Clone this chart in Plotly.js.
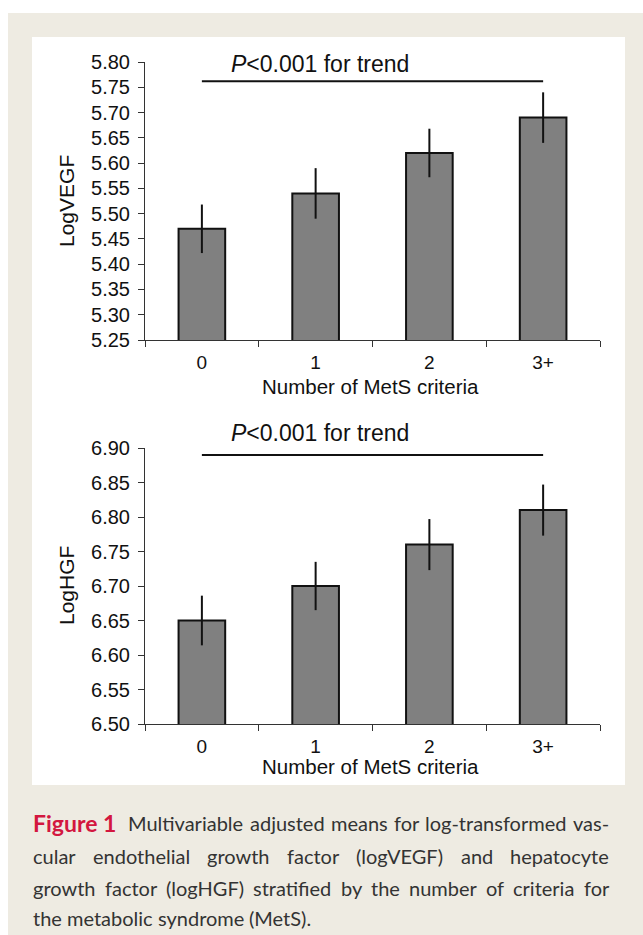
<!DOCTYPE html>
<html>
<head>
<meta charset="utf-8">
<script src="https://cdn.plot.ly/plotly-3.0.1.min.js"></script>
<style>
  html, body { margin: 0; padding: 0; background: #ffffff; }
  #chart { width: 643px; height: 935px; }
</style>
</head>
<body>
<div id="chart"></div>
<script>
// ---------- data ----------
const categories = ['0', '1', '2', '3+'];
const vegfMeans = [5.47, 5.54, 5.62, 5.69];
const vegfErrors = [0.048, 0.050, 0.048, 0.050];
const hgfMeans = [6.65, 6.70, 6.76, 6.81];
const hgfErrors = [0.036, 0.035, 0.037, 0.037];
const vegfRange = [5.25, 5.80];
const hgfRange = [6.50, 6.90];
const vegfTrendLevel = [5.762];
const hgfTrendLevel = [6.890];
const trendLabel = '<i>P</i>&lt;0.001 for trend';
const xAxisTitle = 'Number of MetS criteria';
const vegfTitle = 'LogVEGF';
const hgfTitle = 'LogHGF';
const captionHead = 'Figure 1';
const captionLines = [
  'Multivariable adjusted means for log-transformed vas-',
  'cular endothelial growth factor (logVEGF) and hepatocyte',
  'growth factor (logHGF) stratified by the number of criteria for',
  'the metabolic syndrome (MetS).'
];

// ---------- layout helpers ----------
const W = 643, H = 935;
const px = x => x / W;
const py = y => 1 - y / H;

const chartFont = 'Liberation Sans, Arial, sans-serif';
const capFont = 'Lato';
const capSize = 20;
const axisColor = '#333333';

function barTrace(y, err, xa, ya) {
  return {
    type: 'bar', x: categories, y: y, xaxis: xa, yaxis: ya,
    width: 0.41,
    marker: { color: '#808080', line: { color: '#111111', width: 2 } },
    error_y: { type: 'data', array: err, visible: true, color: '#111111', thickness: 2, width: 0 },
    hoverinfo: 'x+y', showlegend: false
  };
}

function xAxis(anchor) {
  return {
    type: 'category', domain: [px(145), px(600)], anchor: anchor,
    range: [-0.5, 3.5], tickson: 'boundaries',
    ticks: 'outside', ticklen: 6, tickwidth: 1, tickcolor: axisColor,
    showline: true, linecolor: axisColor, linewidth: 1,
    showgrid: false, zeroline: false,
    ticklabelstandoff: 5,
    tickfont: { family: chartFont, size: 19, color: '#111111' }
  };
}
function yAxis(domain, range, anchor) {
  return {
    domain: domain, anchor: anchor, range: range,
    tick0: range[0], dtick: 0.05, tickformat: '.2f',
    ticks: 'outside', ticklen: 6, tickwidth: 1, tickcolor: axisColor,
    showline: true, linecolor: axisColor, linewidth: 1,
    showgrid: false, zeroline: false,
    ticklabelstandoff: 4,
    tickfont: { family: chartFont, size: 20, color: '#111111' }
  };
}

const data = [
  barTrace(vegfMeans, vegfErrors, 'x', 'y'),
  barTrace(hgfMeans, hgfErrors, 'x2', 'y2')
];

const annotations = [
  { xref: 'paper', yref: 'paper', x: px(66), y: py(201), text: vegfTitle, textangle: -90,
    showarrow: false, xanchor: 'center', yanchor: 'middle', font: { family: chartFont, size: 21, color: '#111' } },
  { xref: 'paper', yref: 'paper', x: px(66), y: py(586), text: hgfTitle, textangle: -90,
    showarrow: false, xanchor: 'center', yanchor: 'middle', font: { family: chartFont, size: 21, color: '#111' } },
  { xref: 'paper', yref: 'paper', x: px(371), y: py(386), text: xAxisTitle,
    showarrow: false, xanchor: 'center', yanchor: 'middle', font: { family: chartFont, size: 20.5, color: '#111' } },
  { xref: 'paper', yref: 'paper', x: px(371), y: py(766), text: xAxisTitle,
    showarrow: false, xanchor: 'center', yanchor: 'middle', font: { family: chartFont, size: 20.5, color: '#111' } },
  { xref: 'paper', yref: 'paper', x: px(320), y: py(64), text: trendLabel,
    showarrow: false, xanchor: 'center', yanchor: 'middle', font: { family: chartFont, size: 23, color: '#111' } },
  { xref: 'paper', yref: 'paper', x: px(320), y: py(433), text: trendLabel,
    showarrow: false, xanchor: 'center', yanchor: 'middle', font: { family: chartFont, size: 23, color: '#111' } }
];

// ---------- justified caption ----------
const cv = document.createElement('canvas').getContext('2d');
function measure(t, bold, size) {
  cv.font = (bold ? 'bold ' : '') + size + 'px ' + capFont;
  return cv.measureText(t).width;
}
const capLeft = 33, capRight = 609;
const capY = [823, 856, 888, 918];
const capColor = '#333333';
const headSize = 23;
captionLines.forEach((line, i) => {
  const words = line.split(' ');
  let start = capLeft;
  if (i === 0) {
    annotations.push({ xref: 'paper', yref: 'paper', x: px(capLeft - 2), y: py(capY[0]),
      text: '<b>' + captionHead + '</b>', showarrow: false, xanchor: 'left', yanchor: 'middle',
      font: { family: capFont, size: headSize, color: '#d3173f' } });
    start = capLeft + measure(captionHead, true, headSize) + 12;
  }
  const widths = words.map(w => measure(w, false, capSize));
  const total = widths.reduce((a, b) => a + b, 0);
  const justify = i < captionLines.length - 1;
  const gap = justify ? (capRight - start - total) / (words.length - 1) : measure(' ', false, capSize);
  let x = start;
  words.forEach((w, k) => {
    annotations.push({ xref: 'paper', yref: 'paper', x: px(x - 2), y: py(capY[i]), text: w,
      showarrow: false, xanchor: 'left', yanchor: 'middle',
      font: { family: capFont, size: capSize, color: capColor } });
    x += widths[k] + gap;
  });
});

const shapes = [
  { type: 'rect', xref: 'paper', yref: 'paper', x0: px(8), x1: 1, y0: 0, y1: py(13),
    fillcolor: '#eeebe2', line: { width: 0 }, layer: 'below' },
  { type: 'rect', xref: 'paper', yref: 'paper', x0: px(32), x1: px(625), y0: py(785), y1: py(37),
    fillcolor: '#ffffff', line: { width: 0 }, layer: 'below' },
  { type: 'line', xref: 'x', yref: 'y', x0: categories[0], x1: categories[3],
    y0: vegfTrendLevel[0], y1: vegfTrendLevel[0], line: { color: '#111', width: 2 } },
  { type: 'line', xref: 'x2', yref: 'y2', x0: categories[0], x1: categories[3],
    y0: hgfTrendLevel[0], y1: hgfTrendLevel[0], line: { color: '#111', width: 2 } }
];

const layout = {
  width: W, height: H,
  margin: { l: 0, r: 0, t: 0, b: 0 },
  paper_bgcolor: '#ffffff', plot_bgcolor: 'rgba(0,0,0,0)',
  showlegend: false, bargap: 0.59,
  xaxis: xAxis('y'),
  yaxis: yAxis([py(340), py(62)], vegfRange, 'x'),
  xaxis2: xAxis('y2'),
  yaxis2: yAxis([py(724), py(448)], hgfRange, 'x2'),
  shapes: shapes,
  annotations: annotations
};

Plotly.newPlot('chart', data, layout, { displayModeBar: false, staticPlot: true });
</script>
</body>
</html>
